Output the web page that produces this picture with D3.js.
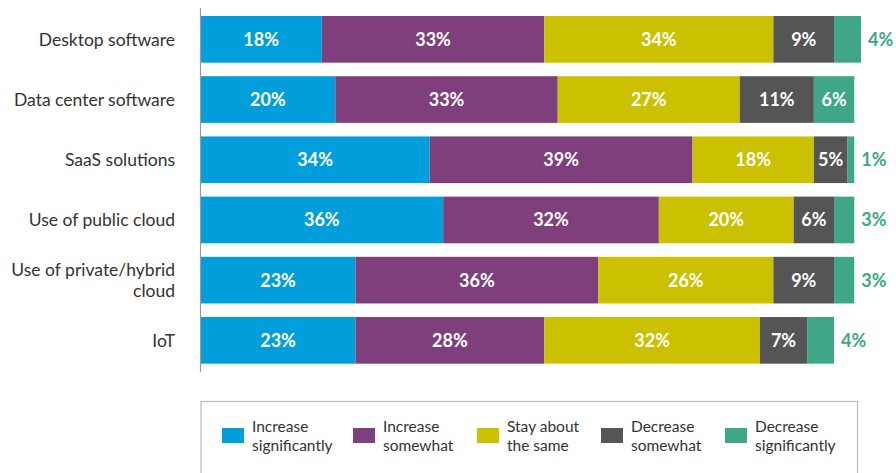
<!DOCTYPE html>
<html><head><meta charset="utf-8">
<script src="https://cdn.jsdelivr.net/npm/d3@7"></script>
<style>
html,body{margin:0;padding:0;background:#fff;}
svg{display:block;font-family:Lato,"Noto Sans",sans-serif;}
</style></head>
<body><svg id="c" width="896" height="473"></svg>
<script>
const categories = ["Desktop software","Data center software","SaaS solutions","Use of public cloud","Use of private/hybrid cloud","IoT"];
const categoryLines = [["Desktop software"],["Data center software"],["SaaS solutions"],["Use of public cloud"],["Use of private/hybrid","cloud"],["IoT"]];
const seriesNames = ["Increase significantly","Increase somewhat","Stay about the same","Decrease somewhat","Decrease significantly"];
const seriesLegendLines = [["Increase","significantly"],["Increase","somewhat"],["Stay about","the same"],["Decrease","somewhat"],["Decrease","significantly"]];
const increaseSignificantly = [18,20,34,36,23,23];
const increaseSomewhat = [33,33,39,32,36,28];
const stayAboutSame = [34,27,18,20,26,32];
const decreaseSomewhat = [9,11,5,6,9,7];
const decreaseSignificantly = [4,6,1,3,3,4];
const colors = ["#009fdb","#7f3f7c","#ccc100","#555555","#3fa687"];

const seriesValues = [increaseSignificantly,increaseSomewhat,stayAboutSame,decreaseSomewhat,decreaseSignificantly];
const rows = categories.map((c,i)=>{const o={cat:c}; seriesNames.forEach((s,j)=>o[s]=seriesValues[j][i]); return o;});
const stack = d3.stack().keys(seriesNames)(rows);

const svg = d3.select("#c");
const x = d3.scaleLinear().domain([0,100]).range([200.5,874.5]);
const y = d3.scaleBand().domain(categories).range([8.8,370.9]).paddingInner(0.225).paddingOuter(0.12);

// bars
const g = svg.append("g");
stack.forEach((layer,j)=>{
  g.selectAll(null).data(layer).enter().append("rect")
    .attr("x",d=>x(d[0])).attr("width",d=>x(d[1])-x(d[0]))
    .attr("y",d=>y(d.data.cat)).attr("height",y.bandwidth())
    .attr("fill",colors[j]);
  g.selectAll(null).data(layer).enter().append("text")
    .attr("x",d=>{const v=d[1]-d[0]; return v<5 ? x(d[1])+7 : (x(d[0])+x(d[1]))/2;})
    .attr("y",d=>y(d.data.cat)+y.bandwidth()/2)
    .attr("dy","0.36em")
    .attr("text-anchor",d=>(d[1]-d[0])<5?"start":"middle")
    .attr("fill",d=>(d[1]-d[0])<5?colors[4]:"#fff")
    .attr("font-weight","bold").attr("font-size","18px")
    .text(d=>(d[1]-d[0])+"%");
});

// y axis
const yAxis = d3.axisLeft(y).tickSize(0).tickFormat("");
const ya = svg.append("g").attr("transform","translate(200.5,0)").call(yAxis);
ya.select(".domain").attr("d","M0,8V372").attr("stroke","#999").attr("stroke-width",1.2);
categories.forEach((c,i)=>{
  const lines = categoryLines[i];
  const cy = y(c)+y.bandwidth()/2;
  const t = svg.append("text").attr("text-anchor","end").attr("font-size","17.5px").attr("fill","#333");
  lines.forEach((l,k)=>{
    t.append("tspan").attr("x",175).attr("y",cy+(k-(lines.length-1)/2)*21).attr("dy","0.36em").text(l);
  });
});

// legend
svg.append("rect").attr("x",201).attr("y",401.5).attr("width",656.5).attr("height",90)
  .attr("fill","none").attr("stroke","#bbb").attr("stroke-width",1.2);
const legX = [222,353,477,601,725];
seriesNames.forEach((s,j)=>{
  svg.append("rect").attr("x",legX[j]).attr("y",428).attr("width",22).attr("height",15).attr("fill",colors[j]);
  const t = svg.append("text").attr("font-size","15.5px").attr("fill","#333");
  seriesLegendLines[j].forEach((l,k)=>{
    t.append("tspan").attr("x",legX[j]+30).attr("y",431.5+k*19.5).text(l);
  });
});
</script></body></html>
